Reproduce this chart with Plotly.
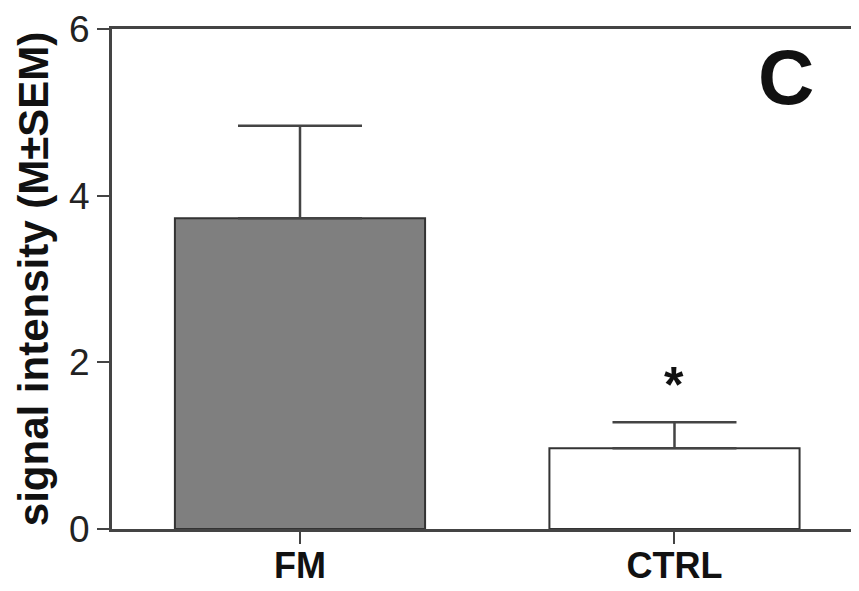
import plotly.graph_objects as go

categories = ["FM", "CTRL"]
means = [3.73, 0.97]
sem = [1.11, 0.31]
y_ticks = [0, 2, 4, 6]
fills = ["#7f7f7f", "#ffffff"]

FONT = "Liberation Sans, Arial"

fig = go.Figure()
fig.add_trace(go.Bar(
    x=[0, 1], y=means,
    width=0.668,
    marker=dict(color=fills, line=dict(color="#333333", width=2)),
    error_y=dict(type="data", array=sem, symmetric=False, arrayminus=[0, 0],
                 color="#444444", thickness=2.5, width=62),
))

fig.add_annotation(x=1, y=means[1] + sem[1], yref="y", xref="x",
                   text="<b>*</b>", showarrow=False, yshift=37,
                   xanchor="center", yanchor="middle",
                   font=dict(family=FONT, size=50, color="#111111"))
fig.add_annotation(x=1.298, y=5.42, xref="x", yref="y",
                   text="<b>C</b>", showarrow=False,
                   xanchor="center", yanchor="middle",
                   font=dict(family=FONT, size=78, color="#111111"))

# page body has an 8px default margin, so the figure is 8px smaller than the window
fig.update_layout(
    width=851, height=583,
    margin=dict(l=104, r=0, t=21, b=62, autoexpand=False),
    plot_bgcolor="white", paper_bgcolor="white",
    showlegend=False,
    font=dict(family=FONT, color="#222222"),
    xaxis=dict(range=[-0.502, 1.4927], automargin=False,
               showline=True, linecolor="#444444", linewidth=3, mirror=True,
               ticks="outside", ticklen=12, tickwidth=2, tickcolor="#444444",
               tickfont=dict(size=36, family=FONT, color="#111111"),
               ticklabelstandoff=-9,
               tickvals=[0, 1], ticktext=["<b>%s</b>" % c for c in categories],
               showgrid=False, zeroline=False),
    yaxis=dict(range=[0, 6], tickvals=y_ticks, automargin=False,
               showline=True, linecolor="#444444", linewidth=3,
               ticks="outside", ticklen=12, tickwidth=2, tickcolor="#444444",
               tickfont=dict(size=37, color="#222222"),
               showgrid=False, zeroline=False,
               title=dict(text="<b>signal intensity (M±SEM)</b>",
                          font=dict(size=42, color="#111111"), standoff=8)),
)

fig.write_html("out.html")
